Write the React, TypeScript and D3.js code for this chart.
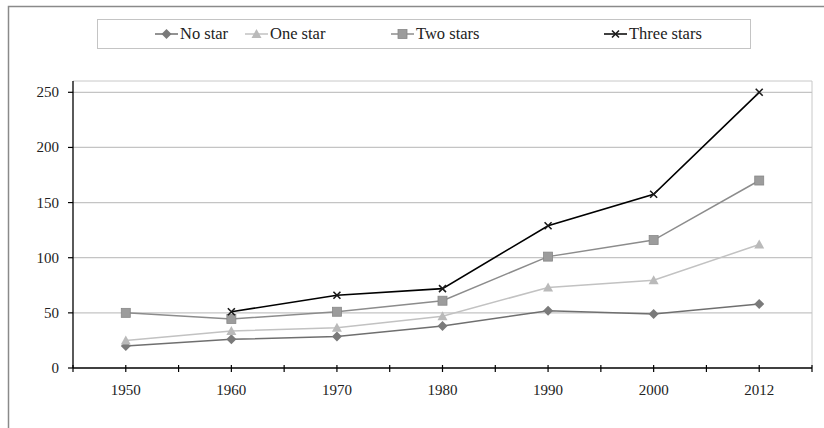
import React from "react";
import * as d3 from "d3";

const years = ["1950", "1960", "1970", "1980", "1990", "2000", "2012"];
const noStar = [20, 26, 28.5, 38, 52, 49, 58];
const oneStar = [25, 33.5, 36.5, 47, 73, 79.5, 112];
const twoStars = [50, 44.5, 51, 61, 101, 116, 170];
const threeStars: (number | null)[] = [null, 51, 66, 72, 129, 157.5, 250];
const yTicks = [0, 50, 100, 150, 200, 250];

const W = 824;
const H = 428;
const plot = { left: 73, right: 812, top: 81, bottom: 368 };
const FONT = "Liberation Serif, serif";

type Series = { name: string; values: (number | null)[]; line: string; marker: string; shape: string };
const series: Series[] = [
  { name: "No star", values: noStar, line: "#6f6f6f", marker: "#7a7a7a", shape: "diamond" },
  { name: "One star", values: oneStar, line: "#c2c2c2", marker: "#bababa", shape: "triangle" },
  { name: "Two stars", values: twoStars, line: "#8c8c8c", marker: "#9c9c9c", shape: "square" },
  { name: "Three stars", values: threeStars, line: "#000000", marker: "#1a1a1a", shape: "x" },
];

function Marker({ shape, x, y, color }: { shape: string; x: number; y: number; color: string }) {
  if (shape === "diamond") {
    const s = 5;
    return <path d={`M${x},${y - s}L${x + s},${y}L${x},${y + s}L${x - s},${y}Z`} fill={color} />;
  }
  if (shape === "triangle") {
    const s = 5;
    return <path d={`M${x},${y - s}L${x + s},${y + s * 0.8}L${x - s},${y + s * 0.8}Z`} fill={color} />;
  }
  if (shape === "square") {
    const s = 4.5;
    return <rect x={x - s} y={y - s} width={2 * s} height={2 * s} fill={color} stroke="#888" strokeWidth={0.8} />;
  }
  const s = 3.5;
  return (
    <path d={`M${x - s},${y - s}L${x + s},${y + s}M${x - s},${y + s}L${x + s},${y - s}`} stroke={color} strokeWidth={1.6} fill="none" />
  );
}

export default function App() {
  const x = d3.scaleBand<string>().domain(years).range([plot.left, plot.right]).padding(0);
  const cx = (yr: string) => (x(yr) as number) + x.bandwidth() / 2;
  const y = d3.scaleLinear().domain([0, 250]).range([plot.bottom, 92.3]);

  const xTickPos: number[] = [];
  years.forEach((yr) => {
    xTickPos.push(x(yr) as number);
    xTickPos.push(cx(yr));
  });
  xTickPos.push(plot.right);

  const legendItems = [
    { s: series[0], lx: 155, tx: 180 },
    { s: series[1], lx: 245, tx: 270 },
    { s: series[2], lx: 391, tx: 416 },
    { s: series[3], lx: 604, tx: 629 },
  ];
  const legendY = 34;
  const textStyle = { fontFamily: FONT };

  return (
    <svg width={W} height={H} style={{ position: "absolute", left: 0, top: 0, background: "#fff" }}>
      <rect x={0} y={0} width={W} height={H} fill="#fff" />
      <path d={`M8.5,${H + 2}L8.5,6.5L${W + 2},6.5`} stroke="#8a8a8a" strokeWidth={1.5} fill="none" />

      {/* legend */}
      <rect x={97.5} y={19.5} width={653} height={29} fill="#fff" stroke="#c4c4c4" strokeWidth={1} />
      {legendItems.map(({ s, lx, tx }) => (
        <g key={s.name}>
          <line x1={lx} x2={lx + 23} y1={legendY} y2={legendY} stroke={s.line} strokeWidth={1.5} />
          <Marker shape={s.shape} x={lx + 11.5} y={legendY} color={s.marker} />
          <text x={tx} y={legendY + 5} style={textStyle} fontSize={16.5} fill="#222">
            {s.name}
          </text>
        </g>
      ))}

      {/* plot border top & right */}
      <line x1={plot.left} x2={plot.right} y1={plot.top} y2={plot.top} stroke="#c8c8c8" strokeWidth={1} />
      <line x1={plot.right} x2={plot.right} y1={plot.top} y2={plot.bottom} stroke="#c8c8c8" strokeWidth={1} />

      {/* gridlines */}
      {yTicks.filter((t) => t > 0).map((t) => (
        <line key={t} x1={plot.left} x2={plot.right} y1={y(t)} y2={y(t)} stroke="#c4c4c4" strokeWidth={1.2} />
      ))}

      {/* y axis */}
      <line x1={plot.left} x2={plot.left} y1={plot.top} y2={plot.bottom} stroke="#000" strokeWidth={1.3} />
      {yTicks.map((t) => (
        <g key={t}>
          <line x1={plot.left - 5} x2={plot.left} y1={y(t)} y2={y(t)} stroke="#000" strokeWidth={1.2} />
          <text x={59} y={y(t) + 5} textAnchor="end" style={textStyle} fontSize={15} fill="#222">
            {t}
          </text>
        </g>
      ))}

      {/* series */}
      {series.map((s) => {
        const pts = years
          .map((yr, i) => ({ yr, v: s.values[i] }))
          .filter((p) => p.v !== null) as { yr: string; v: number }[];
        const line = d3
          .line<{ yr: string; v: number }>()
          .x((p) => cx(p.yr))
          .y((p) => y(p.v));
        return (
          <g key={s.name}>
            <path d={line(pts) || ""} fill="none" stroke={s.line} strokeWidth={s.shape === "x" ? 1.6 : 1.5} />
            {pts.map((p) => (
              <Marker key={p.yr} shape={s.shape} x={cx(p.yr)} y={y(p.v)} color={s.marker} />
            ))}
          </g>
        );
      })}

      {/* x axis */}
      <line x1={plot.left} x2={plot.right} y1={plot.bottom} y2={plot.bottom} stroke="#000" strokeWidth={1.3} />
      {xTickPos.map((p, i) => (
        <line key={i} x1={p} x2={p} y1={plot.bottom - 3} y2={plot.bottom + 4} stroke="#000" strokeWidth={1.2} />
      ))}
      {years.map((yr) => (
        <text key={yr} x={cx(yr)} y={395} textAnchor="middle" style={textStyle} fontSize={15} fill="#222">
          {yr}
        </text>
      ))}
    </svg>
  );
}
